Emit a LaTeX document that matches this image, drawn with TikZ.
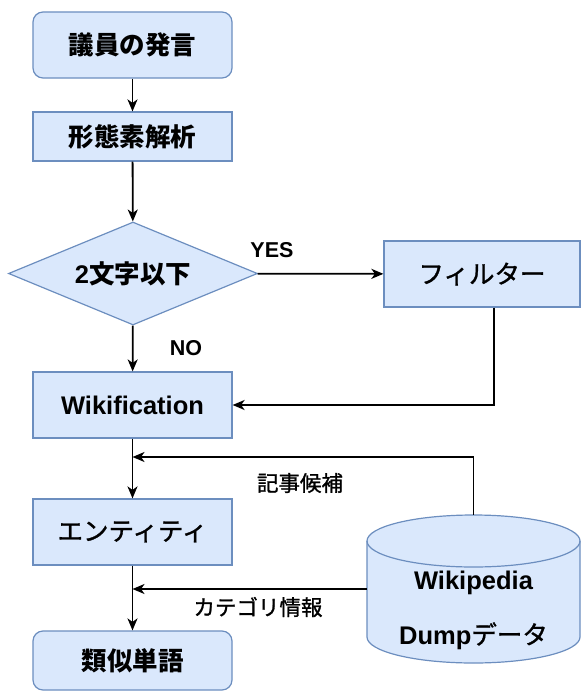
\documentclass[tikz,border=0pt]{standalone}
\usepackage{fontspec}
\setmainfont{Liberation Sans}
\newfontfamily\jp{Noto Sans CJK JP}
\newfontfamily\jpm[FakeBold=1.2]{Noto Sans CJK JP}
\usetikzlibrary{shapes.geometric,arrows.meta,positioning}
\definecolor{boxfill}{HTML}{DAE8FC}
\definecolor{boxline}{HTML}{6C8EBF}

\begin{document}
\begin{tikzpicture}[x=1pt, y=-1pt,
      box/.style={draw=boxline, fill=boxfill, line width=1.2pt, minimum width=199pt, minimum height=66pt, inner sep=0pt, font=\fontsize{25.5}{30}\selectfont\bfseries},
      startbox/.style={box, rounded corners=10pt},
      flow/.style={draw, line width=1.8pt, -{Stealth[length=12pt,width=10pt,inset=3.5pt]}},
      lbl/.style={font=\fontsize{21.5}{25}\selectfont}
      ]

      % Pour garder les marges de la figure.
      \path[use as bounding box] (0,0) rectangle (582,693);

      \node[startbox] (hatsugen) at (132.5,45) {\jp 議員の発言};
      \node[box, minimum height=49pt] (keitaiso) at (132.5,136.5) {\jp 形態素解析};
      \node[box, diamond, aspect=2.4, minimum width=249pt, minimum height=103pt] (moji) at (133,273.5) {2{\jp 文字以下}};
      \node[box, minimum width=196pt, font=\fontsize{25.5}{30}\selectfont] (filter) at (482,274) {\jpm フィルター};
      \node[box] (wiki) at (132.5,405) {Wikification};
      \node[box, font=\fontsize{25.5}{30}\selectfont] (entity) at (132.5,532) {\jpm エンティティ};
      \node[startbox, minimum height=59pt] (ruiji) at (132.5,660.5) {\jp 類似単語};

      \node[minimum width=213pt, minimum height=148pt, inner sep=0pt] (db) at (473.5,589) {};
      \path[draw=boxline, fill=boxfill, line width=1.2pt] (367,541) -- (367,637) arc (180:0:106.5 and 26) -- (580,541) arc (0:-180:106.5 and 26) -- cycle;
      \path[draw=boxline, line width=1.2pt] (367,541) arc (180:0:106.5 and 26);
      \node[align=center, font=\fontsize{25.5}{30}\selectfont\bfseries] (dbtext) at (473.5,610) {Wikipedia\\[25pt]Dump{\jpm\mdseries データ}};

      \coordinate (kiji) at (132.5,457);
      \coordinate (cat) at (132.5,589);

      \path[flow] (hatsugen) -- (keitaiso);
      \path[flow] (keitaiso) -- (moji);
      \path[flow] (moji) -- (filter);
      \path[flow] (moji) -- (wiki);
      \path[flow] ([xshift=12pt]filter.south) |- (wiki.east);
      \path[flow] (wiki) -- (entity);
      \path[flow] (entity) -- (ruiji);
      \path[flow] (db.north) |- (kiji);
      \path[flow] (db.west) -- (cat);

      \node[lbl, font=\fontsize{21.5}{25}\selectfont\bfseries] (yes) at (272,250) {YES};
      \node[lbl, font=\fontsize{21.5}{25}\selectfont\bfseries] (no) at (186,348) {NO};
      \node[lbl] (kijilbl) at (300,483) {\jpm 記事候補};
      \node[lbl] (catlbl) at (258,607) {\jpm カテゴリ情報};
    \end{tikzpicture}
\end{document}
